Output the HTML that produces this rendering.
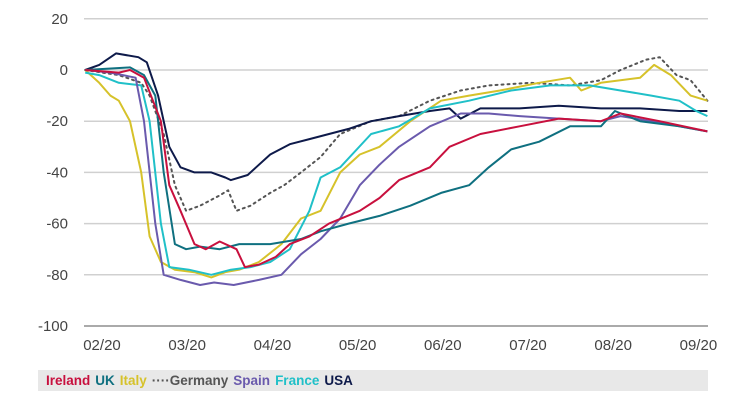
<!DOCTYPE html>
<html><head><meta charset="utf-8"><style>
body{margin:0;background:#fff;width:750px;height:400px;overflow:hidden;font-family:"Liberation Sans",sans-serif}
svg{display:block}
</style></head><body>
<svg id="c" width="750" height="400">
<rect x="38" y="370" width="670" height="21" fill="#e8e8e8"/>
<text y="385" font-size="13.5" font-weight="bold"><tspan x="46" fill="#c8103e">Ireland</tspan><tspan dx="5" fill="#0f7080">UK</tspan><tspan dx="5" fill="#d6c22a">Italy</tspan><tspan dx="5" fill="#555">····Germany</tspan><tspan dx="5" fill="#6a5aad">Spain</tspan><tspan dx="5" fill="#20c0c8">France</tspan><tspan dx="5" fill="#0e1a4a">USA</tspan></text>
</svg>
<script>
const yTicks=[20,0,-20,-40,-60,-80,-100];
const monthLabels=["02/20","03/20","04/20","05/20","06/20","07/20","08/20","09/20"];
// [day since Feb 1, value]
const usa=[[-6,0],[-1,2],[5,6.5],[13,5],[16,3],[20,-10],[24,-30],[28,-38],[33,-40],[39,-40],[44,-42],[46,-43],[52,-41],[55,-38],[60,-33],[67,-29],[74,-27],[81,-25],[88,-23],[96,-20],[106,-18],[117,-16],[124,-15],[128,-19],[135,-15],[149,-15],[163,-14],[178,-15],[192,-15],[206,-16],[216,-16]];
const germany=[[-6,0],[6,-2],[14,-5],[17,-10],[22,-25],[26,-45],[30,-55],[35,-53],[42,-49],[45,-47],[48,-55],[53,-53],[60,-48],[65,-45],[71,-40],[78,-34],[85,-25],[96,-20],[106,-18],[117,-12],[128,-8],[138,-6],[153,-5],[167,-6],[178,-4],[185,0],[194,4],[199,5],[205,-2],[210,-4],[216,-12]];
const italy=[[-6,0],[-1,-5],[3,-10],[6,-12],[10,-20],[14,-40],[17,-65],[21,-75],[26,-78],[33,-79],[39,-81],[44,-79],[49,-78],[56,-75],[64,-68],[71,-58],[78,-55],[85,-40],[92,-33],[99,-30],[110,-20],[121,-12],[131,-10],[142,-8],[156,-5],[167,-3],[171,-8],[178,-5],[192,-3],[197,2],[203,-2],[210,-10],[216,-12]];
const spain=[[-6,0],[3,-1],[12,-3],[15,-20],[19,-60],[22,-80],[28,-82],[35,-84],[40,-83],[47,-84],[56,-82],[64,-80],[71,-72],[78,-66],[85,-58],[92,-45],[99,-37],[106,-30],[117,-22],[128,-17],[138,-17],[149,-18],[163,-19],[178,-20],[185,-18],[196,-20],[206,-22],[216,-24]];
const france=[[-6,-1],[-1,-2],[6,-5],[14,-6],[17,-20],[21,-60],[24,-77],[31,-78],[39,-80],[46,-78],[53,-77],[60,-75],[67,-70],[74,-55],[78,-42],[85,-38],[96,-25],[106,-22],[117,-15],[131,-12],[146,-8],[160,-6],[174,-6],[185,-8],[196,-10],[206,-12],[212,-16],[216,-18]];
const ireland=[[-6,0],[6,-1],[10,0],[15,-3],[21,-20],[24,-45],[28,-55],[33,-68],[37,-70],[42,-67],[48,-70],[51,-77],[56,-76],[62,-73],[67,-68],[74,-65],[81,-60],[92,-55],[99,-50],[106,-43],[117,-38],[124,-30],[135,-25],[149,-22],[163,-19],[178,-20],[185,-17],[199,-20],[216,-24]];
const uk=[[-6,0],[10,1],[15,-2],[19,-10],[22,-40],[26,-68],[30,-70],[35,-69],[42,-70],[49,-68],[60,-68],[71,-66],[78,-63],[88,-60],[99,-57],[110,-53],[121,-48],[131,-45],[138,-38],[146,-31],[156,-28],[167,-22],[178,-22],[183,-16],[192,-20],[206,-22],[216,-24]];
const series=[["germany",germany,"#555",1],["usa",usa,"#0e1a4a",0],["italy",italy,"#d6c22a",0],["france",france,"#20c0c8",0],["spain",spain,"#6a5aad",0],["uk",uk,"#0f7080",0],["ireland",ireland,"#c8103e",0]];
const ns="http://www.w3.org/2000/svg",svg=document.getElementById('c');
const X=d=>102+d*(85.2/30.4), Y=v=>70-v*2.56;
function mk(t,a){const e=document.createElementNS(ns,t);for(const k in a)e.setAttribute(k,a[k]);svg.insertBefore(e,svg.firstChild.nextSibling);return e;}
const layer=[];
yTicks.forEach(v=>{
 const l=mk('line',{x1:84,x2:708,y1:Y(v),y2:Y(v),stroke:v===-100?'#aaa':'#d0d0d0','stroke-width':v===-100?2:1.5});
 
 
 const t=mk('text',{x:68,y:Y(v)+5,'text-anchor':'end','font-size':15,fill:'#444'});
 t.textContent=v;
 
 
});
monthLabels.forEach((m,i)=>{
 const t=mk('text',{x:X(i*30.4),y:350,'text-anchor':'middle','font-size':15,fill:'#444'});
 t.textContent=m;
 
 
});
series.forEach(([n,d,c,dot])=>{
 const p=document.createElementNS(ns,'path');
 p.setAttribute('d',d.map((q,i)=>(i?'L':'M')+X(q[0]).toFixed(1)+','+Y(q[1]).toFixed(1)).join(''));
 p.setAttribute('fill','none');p.setAttribute('stroke',c);p.setAttribute('stroke-width',2);
 p.setAttribute('stroke-linejoin','round');
 if(dot){p.setAttribute('stroke-dasharray','2 4');p.setAttribute('stroke-linecap','round');}
 
 
 svg.appendChild(p);
});
</script>
</body></html>
